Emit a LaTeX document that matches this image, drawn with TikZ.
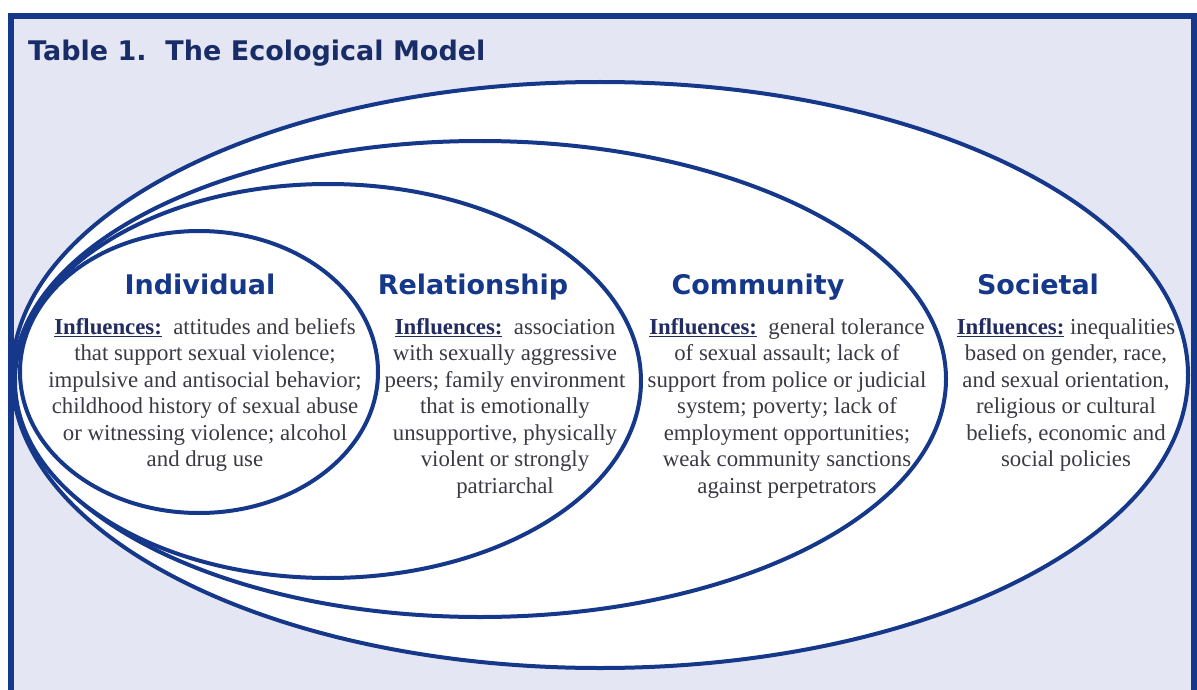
\documentclass[tikz,border=0pt]{standalone}
\usepackage{fontspec}
\setmainfont{Liberation Serif}
\newfontfamily\headfont{DejaVu Sans}
\definecolor{navy}{RGB}{22,56,138}
\definecolor{titleblue}{RGB}{24,44,104}
\definecolor{panel}{RGB}{228,231,243}
\definecolor{bodygray}{RGB}{58,58,68}
\definecolor{inflblue}{RGB}{34,44,96}
\newcommand{\infl}{{\color{inflblue}\bfseries\setbox0\hbox{Influences:}\rlap{\rule[-3pt]{\wd0}{1.6pt}}\box0}}

\begin{document}
\begin{tikzpicture}[x=1pt,y=-1pt,
  ring/.style={draw=navy,line width=4pt,fill=white},
  head/.style={font=\headfont\bfseries\fontsize{27}{32}\selectfont,text=navy,anchor=base,inner sep=0pt},
  body/.style={font=\fontsize{22.8}{26.5}\selectfont,text=bodygray,align=center,anchor=north,inner sep=0pt}]
\useasboundingbox (0,0) rectangle (1197,690);
\fill[panel] (8,13) rectangle (1197,690);
\draw[navy,line width=6pt] (11,690) -- (11,16) -- (1193.5,16) -- (1193.5,690);
\node[head,text=titleblue,anchor=base west] (title) at (28,61) {Table 1.\ \ The Ecological Model};

\draw[ring] (600,375) ellipse [x radius=588pt,y radius=293pt];
\draw[ring] (480,379) ellipse [x radius=466pt,y radius=238pt];
\draw[ring] (328,381) ellipse [x radius=313pt,y radius=197pt];
\draw[ring] (199,372) ellipse [x radius=179pt,y radius=141pt];

\node[head] (indiv) at (200,294) {Individual};
\node[head] (relat) at (473,294) {Relationship};
\node[head] (commu) at (758,294) {Community};
\node[head] (socie) at (1038,294) {Societal};

\node[body] (indivtext) at (205,318) {\infl\ \ attitudes and beliefs\\that support sexual violence;\\impulsive and antisocial behavior;\\childhood history of sexual abuse\\or witnessing violence; alcohol\\and drug use};
\node[body] (relattext) at (505,318) {\infl\ \ association\\with sexually aggressive\\peers; family environment\\that is emotionally\\unsupportive, physically\\violent or strongly\\patriarchal};
\node[body] (commutext) at (787,318) {\infl\ \ general tolerance\\of sexual assault; lack of\\support from police or judicial\\system; poverty; lack of\\employment opportunities;\\weak community sanctions\\against perpetrators};
\node[body] (societext) at (1066,318) {\infl\ inequalities\\based on gender, race,\\and sexual orientation,\\religious or cultural\\beliefs, economic and\\social policies};
\end{tikzpicture}
\end{document}
